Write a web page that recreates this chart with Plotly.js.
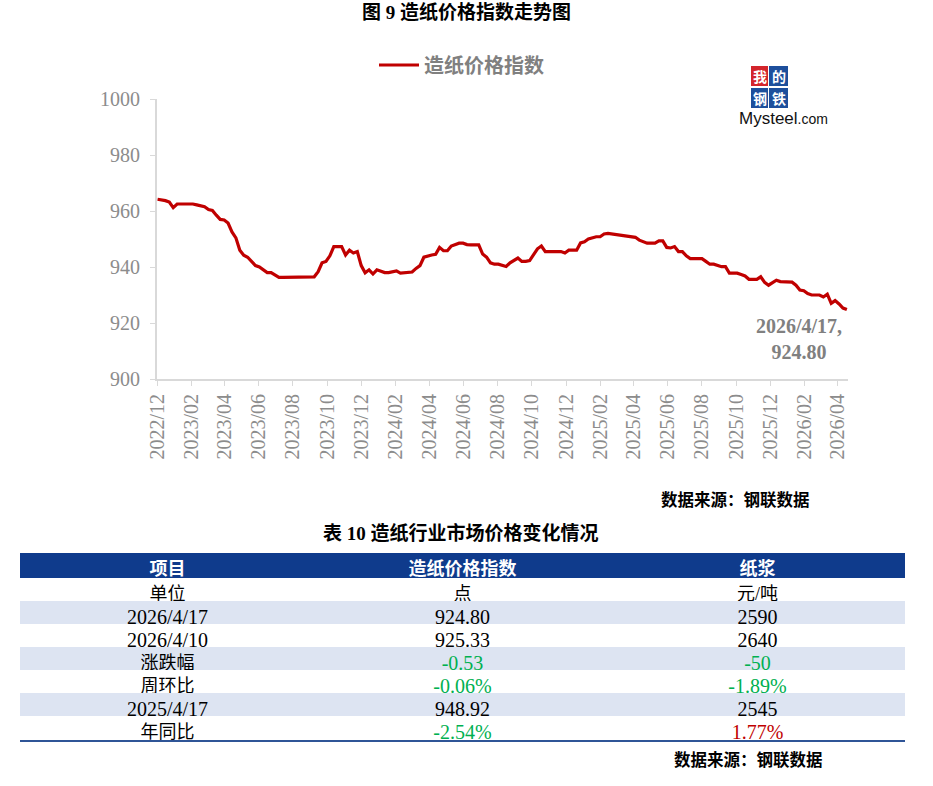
<!DOCTYPE html>
<html>
<head>
<meta charset="utf-8">
<script src="https://cdn.plot.ly/plotly-3.0.1.min.js"></script>
<style>
html,body{margin:0;padding:0;background:#fff;}
#chart{width:933px;height:786px;}
</style>
</head>
<body>
<div id="chart"></div>
<script>
// ---- Line chart data (weekly, ending 2026-04-17) ----
var endDate = '2026-04-17';
var indexValues = [
964.2, 964.0, 963.7, 963.2, 961.2, 962.5, 962.5, 962.5, 962.5, 962.5,
962.2, 961.8, 961.5, 960.5, 960.2, 958.5, 957.0, 956.8, 955.7, 952.5,
950.4, 946.0, 944.2, 943.5, 942.0, 940.5, 940.0, 939.0, 938.0, 938.0,
937.3, 936.3, 936.3, 936.3, 936.3, 936.3, 936.3, 936.3, 936.3, 936.3,
936.5, 938.3, 941.5, 942.0, 944.0, 947.3, 947.3, 947.3, 944.3, 946.0,
945.0, 945.5, 940.5, 937.9, 939.0, 937.5, 939.0, 938.6, 938.0, 938.0,
938.3, 938.6, 937.8, 938.0, 938.0, 938.2, 939.5, 940.5, 943.5, 944.0,
944.3, 944.5, 947.0, 945.8, 945.8, 947.5, 948.0, 948.5, 948.5, 948.0,
947.9, 947.9, 947.9, 944.6, 943.5, 941.5, 941.0, 941.0, 940.6, 940.2,
941.5, 942.5, 943.2, 942.0, 942.0, 942.3, 944.5, 946.5, 947.5, 945.5,
945.5, 945.5, 945.5, 945.5, 945.0, 946.0, 946.0, 946.0, 948.6, 949.0,
950.0, 950.5, 950.8, 950.8, 951.8, 952.0, 951.8, 951.4, 951.4, 951.2,
950.8, 950.8, 950.6, 949.6, 948.92, 948.5, 948.5, 948.5, 949.3, 949.3,
947.0, 946.8, 947.3, 945.5, 945.5, 944.0, 943.0, 943.0, 943.0, 943.0,
942.0, 941.0, 941.0, 940.5, 940.1, 940.1, 937.8, 937.8, 937.8, 937.3,
936.8, 935.6, 935.6, 935.6, 936.5, 934.5, 933.5, 934.5, 935.3, 934.8,
934.8, 934.8, 934.6, 933.5, 931.8, 931.5, 930.5, 930.0, 930.0, 930.0,
929.3, 930.3, 927.0, 928.0, 926.8, 925.33, 924.8
];
var seriesName = '造纸价格指数';
var lastLabel = '2026/4/17,<br>924.80';

// weekly dates (categories) counted back from endDate
var dates = [];
(function(){
  var end = new Date(endDate + 'T00:00:00Z');
  var n = indexValues.length;
  for (var i = 0; i < n; i++) {
    var d = new Date(end.getTime() - (n - 1 - i) * 7 * 86400000);
    dates.push(d.toISOString().slice(0,10));
  }
})();

// ---- Table data ----
var tableHeaders = ['项目', '造纸价格指数', '纸浆'];
var rowItems  = ['单位', '2026/4/17', '2026/4/10', '涨跌幅', '周环比', '2025/4/17', '年同比'];
var colIndex  = ['点', '924.80', '925.33', '-0.53', '-0.06%', '948.92', '-2.54%'];
var colPulp   = ['元/吨', '2590', '2640', '-50', '-1.89%', '2545', '1.77%'];

// ---- styling helpers ----
var W = 933, H = 786;
function px(x){ return x / W; }
function py(y){ return 1 - y / H; }
var serif = 'Liberation Serif, Noto Sans CJK SC, serif';
var GRAY = '#808080';
var TICKGRAY = '#8c8c8c';
var GREEN = '#00b050';
var RED = '#c00000';
var LIGHT = '#dde4f2';

function isNeg(v){ return v.charAt(0) === '-'; }
function isNum(v){ return /[0-9]/.test(v); }
var fontColsItems = rowItems.map(function(){ return '#000'; });
var fontColsIndex = colIndex.map(function(v){ return isNeg(v) ? GREEN : '#000'; });
var fontColsPulp  = colPulp.map(function(v, i){
  if (isNeg(v)) return GREEN;
  if (rowItems[i] === '年同比') return RED;
  return '#000';
});
function sizes(col){ return col.map(function(v){ return isNum(v) ? 20 : 18; }); }
var rowFill = rowItems.map(function(_, i){ return i % 2 === 1 ? LIGHT : '#ffffff'; });

var lineTrace = {
  type: 'scatter', mode: 'lines',
  x: dates, y: indexValues, name: seriesName,
  line: {color: '#c00000', width: 3.2},
  xaxis: 'x', yaxis: 'y',
  hoverinfo: 'skip'
};

var tableTrace = {
  type: 'table',
  domain: {x: [px(20), px(905)], y: [py(742), py(553)]},
  columnwidth: [1, 1, 1],
  header: {
    values: tableHeaders,
    fill: {color: '#0f3b8c'},
    line: {width: 0, color: '#0f3b8c'},
    font: {family: serif, size: 18, color: '#ffffff', weight: 'bold'},
    align: 'center', height: 25
  },
  cells: {
    values: [rowItems, colIndex, colPulp],
    fill: {color: [rowFill, rowFill, rowFill]},
    line: {width: 0, color: '#ffffff'},
    font: {family: serif, size: [sizes(rowItems), sizes(colIndex), sizes(colPulp)],
           color: [fontColsItems, fontColsIndex, fontColsPulp]},
    align: 'center', height: 23
  }
};

function ann(text, x, y, font, extra){
  var a = {text: text, xref: 'paper', yref: 'paper', x: px(x), y: py(y),
           xanchor: 'center', yanchor: 'middle', showarrow: false, font: font};
  if (extra) for (var k in extra) a[k] = extra[k];
  return a;
}
var logoFont = {family: 'Noto Sans CJK SC', size: 14, color: '#ffffff', weight: 'bold'};

var layout = {
  width: W, height: H,
  margin: {l: 0, r: 0, t: 0, b: 0},
  paper_bgcolor: '#ffffff', plot_bgcolor: '#ffffff',
  showlegend: true,
  legend: {
    orientation: 'h', x: px(374), y: py(65), xanchor: 'left', yanchor: 'middle',
    font: {family: serif, size: 20, color: GRAY, weight: 'bold'},
    bgcolor: 'rgba(0,0,0,0)', itemwidth: 40
  },
  xaxis: {
    domain: [px(157), px(848)],
    anchor: 'y',
    type: 'date',
    range: ['2022-12-01', '2026-04-19'],
    tick0: '2022-12-01', dtick: 'M2', tickformat: '%Y/%m',
    tickangle: -90,
    ticks: 'outside', ticklen: 5, tickcolor: '#d9d9d9', tickwidth: 1,
    showline: true, linecolor: '#d9d9d9', linewidth: 2,
    showgrid: false, zeroline: false,
    tickfont: {family: serif, size: 20, color: TICKGRAY}
  },
  yaxis: {
    domain: [py(379), py(99)],
    anchor: 'x',
    range: [900, 1000], dtick: 20, tick0: 900,
    ticks: 'outside', ticklen: 5, tickcolor: '#d9d9d9', tickwidth: 1,
    ticklabelstandoff: 6,
    showline: true, linecolor: '#d9d9d9', linewidth: 2,
    showgrid: false, zeroline: false,
    tickfont: {family: serif, size: 20, color: TICKGRAY}
  },
  shapes: [
    {type: 'line', xref: 'paper', yref: 'paper', x0: px(20), x1: px(905), y0: py(741), y1: py(741),
     line: {color: '#2f5597', width: 2}},
    {type: 'rect', xref: 'paper', yref: 'paper', x0: px(751), x1: px(768), y0: py(86), y1: py(66),
     fillcolor: '#d3252c', line: {width: 0}},
    {type: 'rect', xref: 'paper', yref: 'paper', x0: px(769), x1: px(788), y0: py(86), y1: py(66),
     fillcolor: '#1d4f9c', line: {width: 0}},
    {type: 'rect', xref: 'paper', yref: 'paper', x0: px(751), x1: px(768), y0: py(108), y1: py(88),
     fillcolor: '#1d4f9c', line: {width: 0}},
    {type: 'rect', xref: 'paper', yref: 'paper', x0: px(769), x1: px(788), y0: py(108), y1: py(88),
     fillcolor: '#1d4f9c', line: {width: 0}}
  ],
  annotations: [
    ann('图 9 造纸价格指数走势图', 466, 12, {family: serif, size: 19, color: '#000', weight: 'bold'}),
    ann(lastLabel, 799, 339, {family: serif, size: 20, color: GRAY, weight: 'bold'}, {align: 'center'}),
    ann('数据来源：钢联数据', 735, 500, {family: serif, size: 16.5, color: '#000', weight: 'bold'}),
    ann('表 10 造纸行业市场价格变化情况', 461, 533, {family: serif, size: 19, color: '#000', weight: 'bold'}),
    ann('数据来源：钢联数据', 748, 760, {family: serif, size: 16.5, color: '#000', weight: 'bold'}),
    ann('我', 759.5, 76, logoFont),
    ann('的', 778.5, 76, logoFont),
    ann('钢', 759.5, 98, logoFont),
    ann('铁', 778.5, 98, logoFont),
    ann('Mysteel<span style="font-size:14px">.com</span>', 783, 118,
        {family: 'Liberation Sans, Arial', size: 17, color: '#111111'})
  ]
};

Plotly.newPlot('chart', [lineTrace, tableTrace], layout, {displayModeBar: false, staticPlot: true});
</script>
</body>
</html>
